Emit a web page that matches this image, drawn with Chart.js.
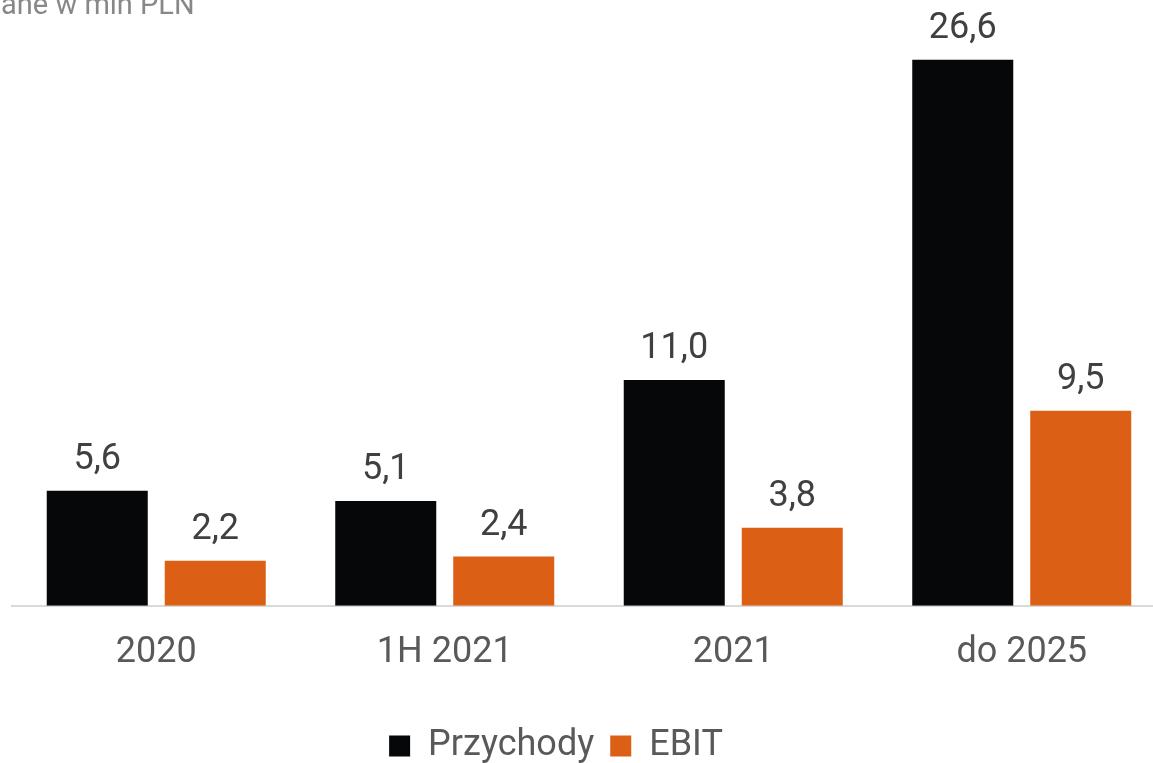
<!DOCTYPE html>
<html>
<head>
<meta charset="utf-8">
<script src="https://cdn.jsdelivr.net/npm/chart.js@4"></script>
<style>
  html, body { margin: 0; padding: 0; overflow: hidden; background: #fff; }
  body { width: 1153px; height: 763px; position: relative; }
  #wrap { position: absolute; left: 0; top: 0; width: 1166px; height: 763px; }
  #note { position: absolute; left: -18px; top: -10px; font: 29px Roboto, sans-serif; line-height: 29px; color: #888; white-space: nowrap; }
</style>
</head>
<body>
<div id="wrap"><canvas id="finChart"></canvas></div>
<div id="note">Dane w mln PLN</div>
<script>
const categories = ["2020", "1H 2021", "2021", "do 2025"];
const revenue = [5.6, 5.1, 11.0, 26.6];
const ebit = [2.2, 2.4, 3.8, 9.5];

const valueLabels = {
    id: "valueLabels",
    afterDatasetsDraw(chart) {
        const ctx = chart.ctx;
        ctx.save();
        ctx.font = "36px Roboto";
        ctx.fillStyle = "#404040";
        ctx.textAlign = "center";
        ctx.textBaseline = "bottom";
        chart.data.datasets.forEach(function (ds, i) {
            chart.getDatasetMeta(i).data.forEach(function (bar, j) {
                const txt = ds.data[j].toFixed(1).replace(".", ",");
                ctx.fillText(txt, bar.x, bar.y - 13);
            });
        });
        ctx.restore();
    }
};

// the legend in the original sits a bit left of the plot centre and lower
const legendShift = {
    id: "legendShift",
    afterLayout(chart) {
        const lg = chart.legend;
        lg.left -= 33;
        lg.right -= 33;
        lg.top += 11;
        lg.bottom += 11;
    }
};

const ctx = document.getElementById("finChart").getContext("2d");
new Chart(ctx, {
    type: "bar",
    data: {
        labels: categories,
        datasets: [{
            label: "Przychody",
            data: revenue,
            backgroundColor: "#060709",
            categoryPercentage: 0.818,
            barPercentage: 0.856
        }, {
            label: "EBIT",
            data: ebit,
            backgroundColor: "#DB6015",
            categoryPercentage: 0.818,
            barPercentage: 0.856
        }]
    },
    options: {
        responsive: true,
        maintainAspectRatio: false,
        animation: false,
        layout: { padding: { left: 12, right: 0, top: 31, bottom: 0 } },
        plugins: {
            tooltip: { enabled: false },
            legend: {
                position: "bottom",
                labels: {
                    font: { family: "Roboto", size: 36 },
                    color: "#595959",
                    boxWidth: 21,
                    boxHeight: 21,
                    padding: 16
                }
            }
        },
        scales: {
            x: {
                grid: { display: false, drawTicks: false },
                border: { color: "#d9d9d9", width: 2 },
                ticks: {
                    font: { family: "Roboto", size: 36 },
                    color: "#595959",
                    padding: 26
                }
            },
            y: {
                display: false,
                min: 0,
                max: 28
            }
        }
    },
    plugins: [valueLabels, legendShift]
});
</script>
</body>
</html>
